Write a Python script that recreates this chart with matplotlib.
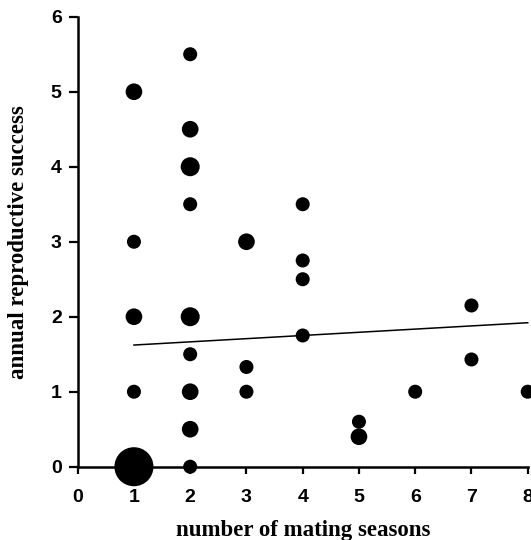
import numpy as np
import matplotlib
matplotlib.use("Agg")
import matplotlib.pyplot as plt

# Data
seasons = [1, 1, 1, 1, 1, 2, 2, 2, 2, 2, 2, 2, 2, 2, 3, 3, 3, 4, 4, 4, 4, 5, 5, 6, 7, 7, 8]
success = [0, 1, 2, 3, 5, 0, 0.5, 1, 1.5, 2, 3.5, 4, 4.5, 5.5, 1, 1.33, 3,
           1.75, 2.5, 2.75, 3.5, 0.4, 0.6, 1, 1.43, 2.15, 1]
# relative number of individuals per point (1 = smallest dot)
count = [8, 1, 2, 1, 2, 1, 2, 2, 1, 3, 1, 3, 2, 1, 1, 1, 2,
         1, 1, 1, 1, 2, 1, 1, 1, 1, 1]

# regression line
fit_intercept = 1.58
fit_slope = 0.0425

x_ticks = [0, 1, 2, 3, 4, 5, 6, 7, 8]
y_ticks = [0, 1, 2, 3, 4, 5, 6]

dot_area = {1: 102, 2: 144, 3: 187, 8: 790}

fig = plt.figure(figsize=(5.31, 5.40), dpi=100)
ax = fig.add_axes([0.1463, 0.1357, 0.8475, 0.8333])

sizes = [dot_area[c] for c in count]
ax.scatter(seasons, success, s=sizes, c="black", linewidths=0, clip_on=False, zorder=3)

xs = np.array([min(seasons), max(seasons)])
ax.plot(xs, fit_intercept + fit_slope * xs, color="black", lw=1.1, clip_on=False, zorder=2)

ax.set_xlim(0, 8)
ax.set_ylim(0, 6)
ax.set_xticks(x_ticks)
ax.set_yticks(y_ticks)

for side in ["top", "right"]:
    ax.spines[side].set_visible(False)
for side in ["left", "bottom"]:
    ax.spines[side].set_linewidth(1.8)

ax.tick_params(axis="both", direction="out", width=1.6, color="black")
ax.tick_params(axis="x", length=5, pad=11)
ax.tick_params(axis="y", length=6.5, pad=5)

for lab in ax.get_xticklabels() + ax.get_yticklabels():
    lab.set_fontfamily("Liberation Sans")
    lab.set_fontweight("bold")
    lab.set_fontsize(14)

ax.set_xlabel("number of mating seasons", fontfamily="Liberation Serif",
              fontweight="bold", fontsize=16.5, labelpad=10)
ax.set_ylabel("annual reproductive success", fontfamily="Liberation Serif",
              fontweight="bold", fontsize=16.5, labelpad=16)

fig.savefig("out.png", dpi=100)
